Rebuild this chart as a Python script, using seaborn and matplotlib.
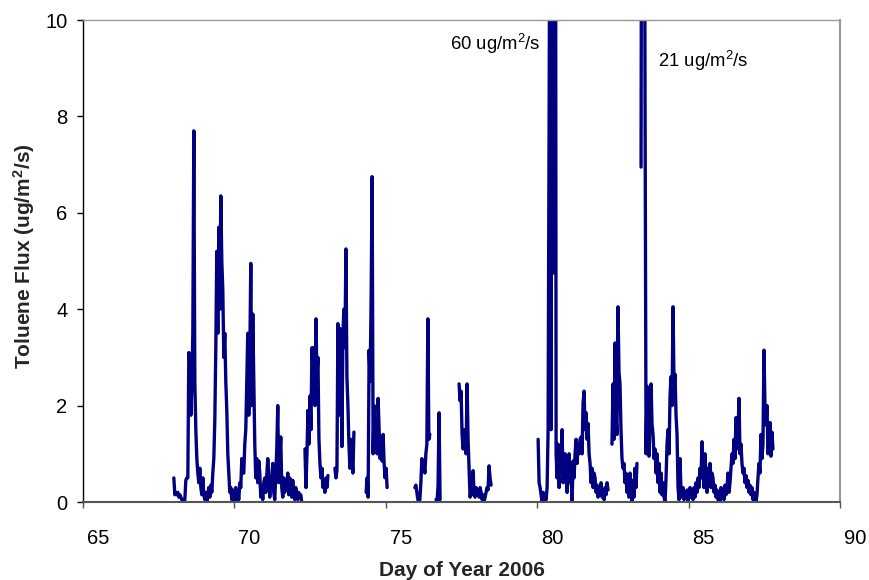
import numpy as np
import pandas as pd
import matplotlib
matplotlib.use("Agg")
import matplotlib.pyplot as plt
import matplotlib.transforms as mtransforms
import seaborn as sns

# Flux record is logged every ~48 min; each run below is a continuous stretch
# of measurements (gaps between runs are missing data).
STEP_DAYS = 0.033

run_starts = [68.00, 72.33, 73.32, 74.35, 75.96, 76.66, 77.42, 80.03, 82.47, 83.43]

flux_d68 = [
    0.5, 0.15, 0.2, 0.15, 0.2, 0.1, 0.15, 0.1, 0.05, 0.0, 0.0, 0.05, 0.45, 0.5, 0.5,
    3.1, 2.9, 1.8, 2.4, 3.5, 7.7, 2.5, 1.5, 0.9, 0.6, 0.4, 0.7, 0.3, 0.15, 0.5,
    0.15, 0.05, 0.2, 0.0, 0.15, 0.3, 0.1, 0.35, 0.2, 0.6, 0.9, 1.7, 3.2, 5.2, 3.5,
    5.7, 4.0, 6.35, 5.0, 4.4, 3.0, 3.5, 2.5, 1.9, 1.0, 0.6, 0.2, 0.3, 0.05, 0.25,
    0.0, 0.1, 0.3, 0.05, 0.2, 0.05, 0.4, 0.3, 0.9, 0.6, 0.6, 1.2, 1.5, 2.5, 3.5,
    1.8, 3.0, 4.95, 2.0, 3.9, 2.5, 1.2, 0.5, 0.9, 0.4, 0.85, 0.6, 0.1, 0.3, 0.05,
    0.4, 0.5, 0.2, 0.55, 0.9, 0.6, 0.1, 0.5, 0.3, 0.8, 0.2, 0.05, 0.6, 1.1, 2.0,
    0.4, 0.9, 1.35, 0.3, 0.1, 0.5, 0.2, 0.45, 0.3, 0.6, 0.15, 0.5, 0.35, 0.1, 0.45,
    0.2, 0.05, 0.3, 0.15, 0.05, 0.2, 0.1, 0.15, 0.0,
]
flux_d72 = [
    1.1, 0.3, 1.0, 1.9, 1.2, 2.2, 1.5, 3.2, 2.8, 3.2, 2.0, 3.8, 2.6, 3.0, 1.3,
    0.8, 0.5, 0.7, 0.3, 0.45, 0.2, 0.5, 0.3, 0.55,
]
flux_d73 = [
    0.7, 0.5, 0.65, 3.7, 1.8, 3.6, 3.0, 1.15, 3.5, 4.0, 3.2, 5.25, 2.6, 2.0, 1.2,
    0.7, 1.3, 0.9, 0.6, 1.45,
]
flux_d74 = [
    0.2, 0.5, 0.1, 3.15, 2.5, 4.2, 6.75, 1.0, 2.0, 1.2, 1.7, 1.0, 2.15, 1.5, 0.9,
    1.1, 0.85, 1.4, 0.8, 0.5, 0.7, 0.3,
]
flux_d76a = [0.3, 0.35, 0.2, 0.05, 0.0, 0.05, 0.4, 0.9, 0.7, 0.8, 0.6, 1.0, 1.2, 3.8, 1.3, 1.4]
flux_d76b = [0.05, 0.0, 0.35, 1.85, 0.05]
flux_d77 = [
    2.45, 2.1, 2.3, 1.4, 1.1, 1.5, 1.3, 1.0, 2.45, 1.3, 0.7, 0.1, 0.2, 0.15, 0.65,
    0.2, 0.1, 0.3, 0.15, 0.25, 0.1, 0.3, 0.2, 0.05, 0.15, 0.0, 0.1, 0.2, 0.3, 0.25,
    0.75, 0.5, 0.35,
]
flux_d80 = [
    1.3, 0.4, 0.3, 0.15, 0.0, 0.2, 0.05, 0.15, 0.05, 0.3, 1.5, 7.9, 15.0, 1.5, 60.0,
    30.0, 4.75, 25.0, 1.0, 0.5, 1.2, 0.3, 1.0, 0.7, 1.5, 0.4, 0.7, 1.0, 0.5, 0.2,
    0.6, 1.0, 0.4, 0.6, 0.0, 0.85, 0.5, 1.0, 1.3, 0.8, 1.2, 1.0, 1.3, 1.35, 1.0,
    2.05, 2.3, 1.5, 1.85, 1.3, 1.63, 1.0, 0.8, 0.4, 0.7, 0.3, 0.6, 0.5, 0.2, 0.35,
    0.1, 0.3, 0.15, 0.4, 0.1, 0.2, 0.05, 0.3, 0.15, 0.4, 0.25,
]
flux_d82 = [
    1.2, 2.45, 1.3, 3.3, 1.8, 1.4, 4.05, 2.7, 2.45, 1.5, 0.9, 0.7, 0.8, 0.4, 0.6,
    0.2, 0.5, 0.1, 0.6, 0.3, 0.0, 0.45, 0.1, 0.7, 0.3, 0.8,
]
flux_d83 = [
    6.95, 21.0, 16.0, 18.0, 8.3, 1.0, 2.4, 1.3, 0.95, 1.8, 2.45, 1.6, 1.4, 0.9, 1.1,
    0.6, 1.0, 0.4, 0.8, 0.2, 0.6, 0.15, 0.4, 0.1, 0.0, 0.5, 1.2, 1.5, 1.0, 2.2,
    2.6, 2.0, 4.05, 2.4, 2.65, 1.8, 1.4, 0.3, 0.05, 0.9, 0.2, 0.1, 0.3, 0.05, 0.2,
    0.1, 0.25, 0.0, 0.15, 0.3, 0.1, 0.2, 0.05, 0.3, 0.1, 0.4, 0.2, 0.5, 0.3, 0.7,
    0.5, 1.25, 0.6, 0.3, 1.0, 0.5, 0.2, 0.7, 0.4, 0.8, 0.3, 0.6, 0.5, 0.2, 0.35,
    0.1, 0.25, 0.05, 0.2, 0.0, 0.3, 0.1, 0.2, 0.05, 0.35, 0.15, 0.3, 0.6, 0.2, 0.4,
    0.7, 1.0, 0.8, 1.3, 0.9, 1.75, 1.1, 1.4, 2.15, 1.0, 1.2, 0.8, 0.6, 0.7, 0.4,
    0.55, 0.3, 0.45, 0.2, 0.35, 0.15, 0.3, 0.05, 0.2, 0.1, 0.0, 0.15, 0.5, 0.8, 0.6,
    1.4, 0.9, 1.2, 3.15, 2.0, 1.6, 2.0, 1.0, 1.3, 1.65, 0.95, 1.45, 1.1,
]

runs = [flux_d68, flux_d72, flux_d73, flux_d74, flux_d76a, flux_d76b,
        flux_d77, flux_d80, flux_d82, flux_d83]

peak_notes = ["60 ug/m$^2$/s", "21 ug/m$^2$/s"]
note_pos = [(77.12, 9.38), (83.99, 9.02)]

x_ticks = [65, 70, 75, 80, 85, 90]
y_ticks = [0, 2, 4, 6, 8, 10]

frames = []
for k, (t0, vals) in enumerate(zip(run_starts, runs)):
    t = t0 + STEP_DAYS * np.arange(len(vals))
    frames.append(pd.DataFrame({"day": t, "flux": vals, "run": k}))
df = pd.concat(frames, ignore_index=True)

sns.set_style("white")
plt.rcParams["font.family"] = ["Liberation Sans", "DejaVu Sans"]
plt.rcParams["mathtext.fontset"] = "custom"
plt.rcParams["mathtext.rm"] = "Liberation Sans"
plt.rcParams["mathtext.it"] = "Liberation Sans:italic"
plt.rcParams["mathtext.bf"] = "Liberation Sans:bold"

fig = plt.figure(figsize=(8.69, 5.80), dpi=100)
ax = fig.add_axes([83 / 869, 78 / 580, 757 / 869, 482 / 580])

sns.lineplot(data=df, x="day", y="flux", units="run", estimator=None,
             sort=False, color="#000080", linewidth=2.4, ax=ax, legend=False)

ax.set_xlim(65, 90)
ax.set_ylim(0, 10)
ax.set_xticks(x_ticks)
ax.set_yticks(y_ticks)
ax.set_xticklabels([str(v) for v in x_ticks])
ax.set_yticklabels([str(v) for v in y_ticks])

ax.tick_params(axis="x", direction="out", length=4.3, width=1.0, color="#555555",
               pad=15, labelsize=14.5, labelcolor="black", bottom=True)
ax.tick_params(axis="y", direction="out", length=4.3, width=1.0, color="black",
               pad=7, labelsize=14.5, labelcolor="black", left=True)

# shift the day labels to the right of their tick marks
shift = mtransforms.ScaledTranslation(0.15, 0, fig.dpi_scale_trans)
for lab in ax.get_xticklabels():
    lab.set_transform(lab.get_transform() + shift)

for side in ["top", "right", "bottom", "left"]:
    ax.spines[side].set_visible(True)
ax.spines["left"].set_color("black")
ax.spines["left"].set_linewidth(1.0)
ax.spines["bottom"].set_color("#555555")
ax.spines["bottom"].set_linewidth(1.5)
ax.spines["top"].set_color("#999999")
ax.spines["top"].set_linewidth(1.0)
ax.spines["right"].set_color("#999999")
ax.spines["right"].set_linewidth(1.5)

ax.set_xlabel("Day of Year 2006", fontsize=15, fontweight="bold")
ax.set_ylabel(r"Toluene Flux (ug/m$^\mathbf{2}$/s)", fontsize=15, fontweight="bold")
ax.xaxis.set_label_coords(0.5, -0.122)
ax.xaxis.label.set_va("top")
ax.yaxis.set_label_coords(-0.061, 0.51)

for txt, (px, py) in zip(peak_notes, note_pos):
    ax.text(px, py, txt, fontsize=13.3, ha="left", va="baseline", color="black")

fig.savefig("out.png", dpi=100)
